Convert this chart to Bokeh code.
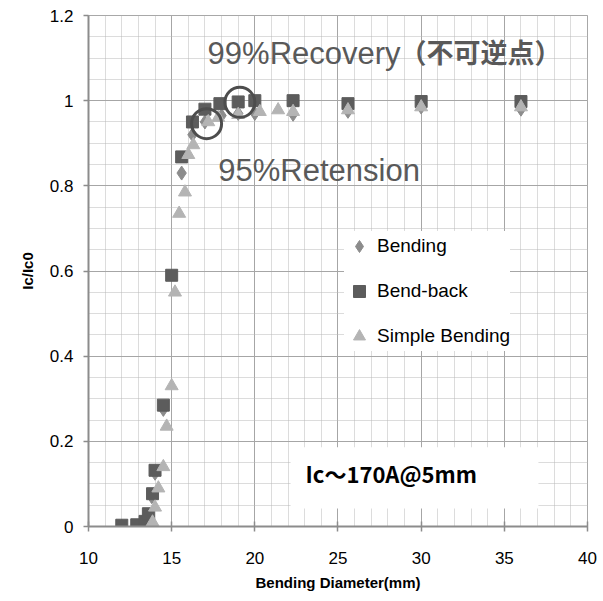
import numpy as np
from bokeh.plotting import figure
from bokeh.models import (SingleIntervalTicker, CustomJSTickFormatter, Label,
                          BoxAnnotation, Range1d)
from bokeh.embed import file_html
from bokeh.resources import INLINE

# ---- data ----
bend_x = [12.0, 12.9, 13.4, 13.8, 14.0, 14.5, 15.6, 16.25, 17.0, 18.0, 19.0, 20.0, 22.3, 25.6, 30.0, 36.0]
bend_y = [0.0, 0.0, 0.01, 0.07, 0.125, 0.275, 0.83, 0.92, 0.95, 0.965, 0.97, 0.97, 0.968, 0.975, 0.985, 0.98]

bb_x = [12.0, 12.9, 13.4, 13.6, 13.85, 14.0, 14.5, 15.0, 15.6, 16.25, 17.0, 17.9, 19.0, 20.0, 22.3, 25.6, 30.0, 36.0]
bb_y = [0.003, 0.004, 0.012, 0.03, 0.077, 0.132, 0.285, 0.59, 0.868, 0.95, 0.98, 0.993, 0.997, 1.0, 1.0, 0.993, 0.998, 0.998]

sb_x = [13.85, 14.0, 14.2, 14.5, 14.7, 15.0, 15.2, 15.45, 15.8, 16.0, 16.3, 17.2, 17.8, 19.0, 20.3, 21.4, 22.3, 25.6, 30.0, 36.0]
sb_y = [0.01, 0.045, 0.09, 0.14, 0.235, 0.33, 0.55, 0.735, 0.785, 0.873, 0.896, 0.95, 0.96, 0.967, 0.974, 0.978, 0.974, 0.978, 0.985, 0.985]

circle_x = [17.1, 19.1]
circle_y = [0.946, 0.996]

series_names = ["Bending", "Bend-back", "Simple Bending"]
x_label = "Bending Diameter(mm)"
y_label = "Ic/Ic0"
note_recovery = "99%Recovery"
note_recovery_jp = "（不可逆点）"
note_retension = "95%Retension"
note_ic = "Ic～170A@5mm"

FONT = "Liberation Sans"

p = figure(width=603, height=601, output_backend="svg", toolbar_location=None,
           x_range=Range1d(10, 40.0001), y_range=Range1d(0, 1.20001),
           min_border_left=88, min_border_right=16, min_border_top=15, min_border_bottom=75)
p.background_fill_color = "white"
p.border_fill_color = "white"
p.outline_line_color = "#a6a6a6"

p.xaxis.ticker = SingleIntervalTicker(interval=5, num_minor_ticks=5)
p.yaxis.ticker = SingleIntervalTicker(interval=0.2, num_minor_ticks=4)
p.yaxis.formatter = CustomJSTickFormatter(code="return tick.toFixed(1).replace(/\\.0$/, '');")

for ax in (p.xaxis, p.yaxis):
    ax.axis_line_color = "#8c8c8c"
    ax.axis_line_width = 2
    ax.major_tick_line_color = "#8c8c8c"
    ax.major_tick_line_width = 1.5
    ax.minor_tick_line_color = None
    ax.major_label_text_font = FONT
    ax.major_label_text_font_size = "17px"
    ax.major_label_text_color = "black"
    ax.axis_label_text_font = FONT
    ax.axis_label_text_font_style = "bold"
    ax.axis_label_text_font_size = "15px"
    ax.axis_label_text_color = "black"

p.xaxis.major_tick_in = 5
p.xaxis.major_tick_out = 5
p.xaxis.major_label_standoff = 20
p.xaxis.axis_label = x_label
p.xaxis.axis_label_standoff = 7
p.yaxis.major_tick_in = 0
p.yaxis.major_tick_out = 5
p.yaxis.major_label_standoff = 10
p.yaxis.axis_label = y_label
p.yaxis.axis_label_standoff = 11

for g in (p.xgrid, p.ygrid):
    g.grid_line_color = "#a6a6a6"
    g.grid_line_width = 1
    g.minor_grid_line_color = "#b8b8b8"
    g.minor_grid_line_dash = "1 1"
    g.minor_grid_line_width = 1

# ---- series ----
p.scatter(bend_x, bend_y, marker="diamond", size=14, fill_color="#8c8c8c",
          line_color="#8c8c8c", legend_label=series_names[0])
p.scatter(bb_x, bb_y, marker="square", size=12, fill_color="#5c5c5c",
          line_color="#5c5c5c", legend_label=series_names[1])
p.scatter(sb_x, sb_y, marker="triangle", size=13, fill_color="#b4b4b4",
          line_color="#b4b4b4", legend_label=series_names[2])

# highlight circles
p.scatter(circle_x, circle_y, marker="circle", size=30, fill_color=None,
          line_color="#4d4d4d", line_width=3)

# ---- annotations ----
p.add_layout(Label(x=17.16, y=1.07, text=note_recovery, text_font=FONT,
                   text_font_size="31px", text_color="#595959"))
p.add_layout(Label(x=28.7, y=1.07, text=note_recovery_jp, text_font="Noto Sans CJK JP",
                   text_font_style="bold", text_font_size="27px", text_color="#595959"))
p.add_layout(Label(x=17.8, y=0.795, text=note_retension, text_font=FONT,
                   text_font_size="31px", text_color="#595959"))

p.add_layout(BoxAnnotation(left=22.15, right=37.05, bottom=0.042, top=0.186,
                           fill_color="white", fill_alpha=1.0, line_color=None))
p.add_layout(Label(x=23.05, y=0.087, text=note_ic, text_font="Noto Sans CJK JP",
                   text_font_style="bold", text_font_size="22px", text_color="black"))

# ---- legend ----
lg = p.legend[0]
lg.location = (256, 175)
lg.background_fill_color = "white"
lg.background_fill_alpha = 1.0
lg.border_line_color = None
lg.label_text_font = FONT
lg.label_text_font_size = "19px"
lg.label_text_color = "black"
lg.glyph_width = 30
lg.glyph_height = 30
lg.spacing = 15
lg.padding = 7
lg.margin = 0
lg.label_standoff = 3

open("out.html", "w").write(file_html(p, INLINE))
